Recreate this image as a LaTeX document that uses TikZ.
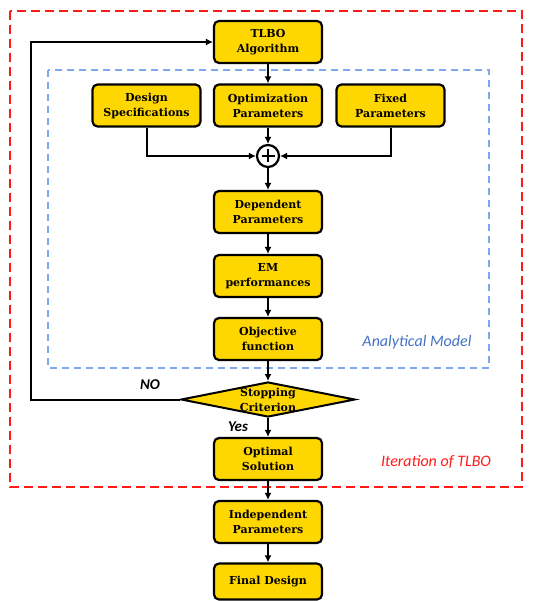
\documentclass[tikz,border=0pt]{standalone}
\usepackage{fontspec}
\usetikzlibrary{shapes.geometric,arrows.meta}
\newfontfamily\boxfont{DejaVu Serif}
\newfontfamily\labfont{Carlito}
\definecolor{boxyellow}{HTML}{FFD700}
\definecolor{bluedash}{HTML}{7EA8F2}
\definecolor{bluetext}{HTML}{4472C4}
\definecolor{reddash}{HTML}{FF1A1A}
\begin{document}
\begin{tikzpicture}[x=1pt,y=-1pt,
  stepbox/.style={draw=black, line width=2.2pt, fill=boxyellow, rounded corners=5pt,
    minimum width=108pt, minimum height=42pt, inner sep=0pt, align=center,
    font=\boxfont\bfseries\fontsize{11}{15}\selectfont},
  txt/.style={align=center, inner sep=0pt, font=\boxfont\bfseries\fontsize{11}{15}\selectfont},
  conn/.style={draw=black, line width=2pt, -{Latex[length=7pt,width=7pt]}},
  lab/.style={inner sep=0pt, font=\labfont\itshape\bfseries\fontsize{15}{17}\selectfont}
]
\useasboundingbox (0,0) rectangle (533,601);
% containers
\draw[reddash, line width=2.4pt, dash pattern=on 9pt off 5pt] (10,11) rectangle (522,487);
\draw[bluedash, line width=1.5pt, dash pattern=on 7pt off 5pt] (48,70) rectangle (489,368);
\node[inner sep=0pt, text=bluetext, font=\labfont\itshape\fontsize{16}{18}\selectfont] (am) at (417,342) {Analytical Model};
\node[inner sep=0pt, text=reddash, font=\labfont\itshape\fontsize{16}{18}\selectfont] (it) at (436,462) {Iteration of TLBO};
% boxes
\node[stepbox] (tlbo) at (268,42) {TLBO\\Algorithm};
\node[stepbox] (ds) at (146.5,105.5) {Design\\Specifications};
\node[stepbox] (op) at (268,105.5) {Optimization\\Parameters};
\node[stepbox] (fp) at (390.5,105.5) {Fixed\\Parameters};
\node[draw=black, line width=2.2pt, fill=white, circle, minimum size=22pt, inner sep=0pt] (plus) at (268,156) {};
\draw[line width=2.6pt] (261.5,156) -- (274.5,156) (268,149.5) -- (268,162.5);
\node[stepbox] (dp) at (268,212) {Dependent\\Parameters};
\node[stepbox] (em) at (268,276) {EM\\performances};
\node[stepbox] (of) at (268,339) {Objective\\function};
\node[diamond, draw=black, line width=2pt, fill=boxyellow, minimum width=174pt, minimum height=35pt, inner sep=0pt] (stop) at (268,399.5) {};
\node[txt] (stoptxt) at (268,399.5) {Stopping\\Criterion};
\node[stepbox] (os) at (268,459) {Optimal\\Solution};
\node[stepbox] (ip) at (268,522) {Independent\\Parameters};
\node[stepbox, minimum height=36pt] (fd) at (268,581.5) {Final Design};
% connectors
\coordinate (c1) at (31,399.5);
\coordinate (c2) at (31,42);
\draw[conn] (tlbo) -- (op);
\draw[conn] (op) -- (plus);
\draw[conn] (ds.south) |- (plus.west);
\draw[conn] (fp.south) |- (plus.east);
\draw[conn] (plus) -- (dp);
\draw[conn] (dp) -- (em);
\draw[conn] (em) -- (of);
\draw[conn] (of) -- (stop.north);
\draw[conn] (stop.south) -- (os);
\draw[conn] (os) -- (ip);
\draw[conn] (ip) -- (fd);
\draw[conn] (stop.west) -- (c1) -- (c2) -- (tlbo.west);
\node[lab] (no) at (150,385) {NO};
\node[lab] (yes) at (238,427) {Yes};
\end{tikzpicture}
\end{document}
